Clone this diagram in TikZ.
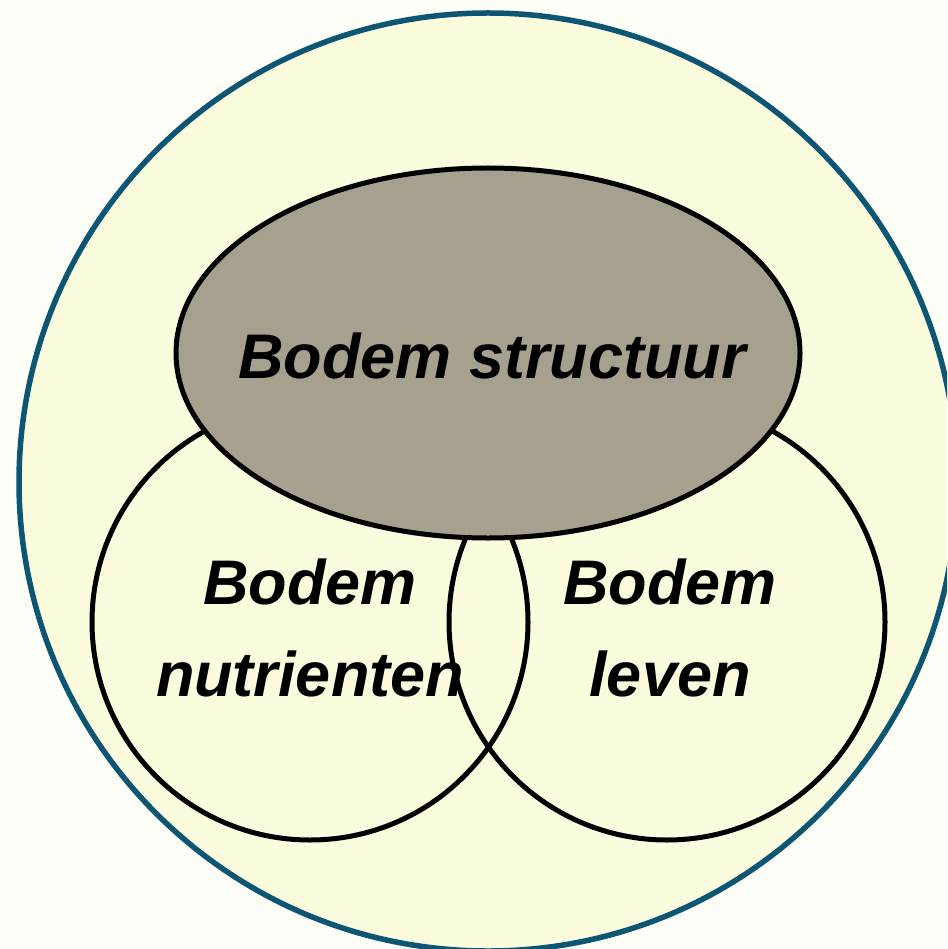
\documentclass[tikz,border=0pt]{standalone}
\usepackage{fontspec}
\setmainfont{Liberation Sans}
\usetikzlibrary{shapes.geometric}
\definecolor{pagebg}{RGB}{253,254,248}
\definecolor{soil}{RGB}{251,252,222}
\definecolor{rimblue}{RGB}{12,86,115}
\definecolor{structgray}{RGB}{166,160,142}
\tikzset{
  outer/.style={draw=rimblue, line width=5.5pt, fill=soil},
  ring/.style={draw=black, line width=5pt},
  label/.style={font=\fontsize{63}{92}\selectfont\bfseries\itshape, align=center, inner sep=0pt, text=black}
}
\begin{document}
\begin{tikzpicture}[x=1pt,y=-1pt]
\useasboundingbox (0,0) rectangle (947,949);
\clip (0,0) rectangle (947,949);
\fill[pagebg] (0,0) rectangle (947,949);
\node[outer, circle, minimum size=938pt, inner sep=0pt] (soil) at (488,482) {};
\node[ring, circle, minimum size=436pt, inner sep=0pt] (nut) at (310,622) {};
\node[ring, circle, minimum size=436pt, inner sep=0pt] (life) at (667,622) {};
\node[ring, ellipse, fill=structgray, minimum width=624pt, minimum height=370pt, inner sep=0pt] (struct) at (488,353) {};
\node[label, anchor=base] (tstruct) at (492,378) {Bodem structuur};
\node[label] (tnut) at (310,628) {Bodem\\nutrienten};
\node[label] (tlife) at (670,628) {Bodem\\leven};
\end{tikzpicture}
\end{document}
